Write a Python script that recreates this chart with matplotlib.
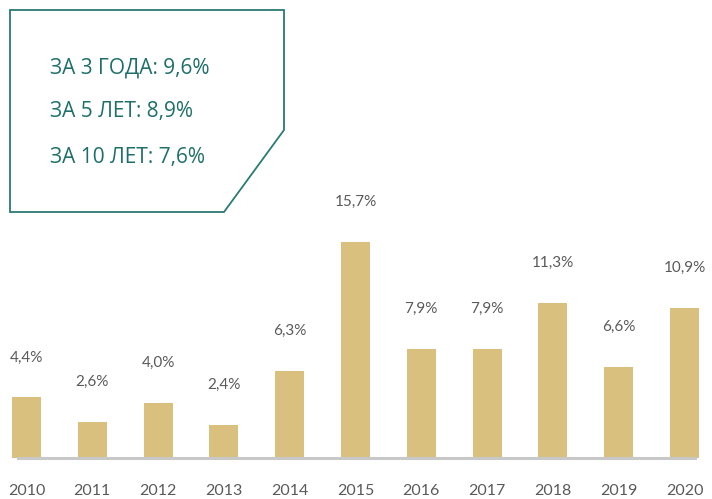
import matplotlib
matplotlib.use("Agg")
import matplotlib.pyplot as plt
from matplotlib.patches import Polygon
import matplotlib.transforms as mtransforms

years = ["2010", "2011", "2012", "2013", "2014", "2015", "2016", "2017", "2018", "2019", "2020"]
values = [4.4, 2.6, 4.0, 2.4, 6.3, 15.7, 7.9, 7.9, 11.3, 6.6, 10.9]
value_labels = ["4,4%", "2,6%", "4,0%", "2,4%", "6,3%", "15,7%", "7,9%", "7,9%", "11,3%", "6,6%", "10,9%"]
summary_lines = ["ЗА 3 ГОДА: 9,6%", "ЗА 5 ЛЕТ: 8,9%", "ЗА 10 ЛЕТ: 7,6%"]

W, H = 712, 499
fig = plt.figure(figsize=(W / 100, H / 100), dpi=100)
plt.rcParams['font.family'] = ['Lato', 'DejaVu Sans']
ax = fig.add_axes([0, 0, 1, 1])
ax.set_axis_off()

step = 65.8
x0 = 26.5
ppu = 13.76
base = 41
ax.set_xlim(-x0 / step, (W - x0) / step)
ax.set_ylim(-base / ppu, (H - base) / ppu)

xs = list(range(len(years)))
bar_color = "#d9c07f"
ax.bar(xs, values, width=0.44, color=bar_color, zorder=2)
ax.axhline(0, xmin=18 / W, xmax=695 / W, color="#c8c8c8", lw=2.2, zorder=3)

label_color = "#5a5a5a"
for x, v, lab in zip(xs, values, value_labels):
    ax.text(x, v + 40 / ppu, lab, ha="center", va="center", fontsize=11, color=label_color)

trans = mtransforms.blended_transform_factory(ax.transData, ax.transAxes)
for x, y in zip(xs, years):
    ax.text(x, 1 - 491 / H, y, ha="center", va="center", fontsize=11.5, color=label_color, transform=trans)

# info box
pts = [(10, 10), (284, 10), (284, 130), (224, 212), (10, 212)]
poly = Polygon([(px / W, 1 - py / H) for px, py in pts], closed=True, fill=False,
               edgecolor="#2b7a74", lw=1.3, transform=fig.transFigure)
fig.add_artist(poly)
teal = "#1e6f69"
for yy, line in zip([68, 112, 157], summary_lines):
    fig.text(50 / W, 1 - yy / H, line, ha="left", va="center", fontsize=15, color=teal,
             family=["Open Sans", "DejaVu Sans"])

fig.savefig("out.png", dpi=100)
